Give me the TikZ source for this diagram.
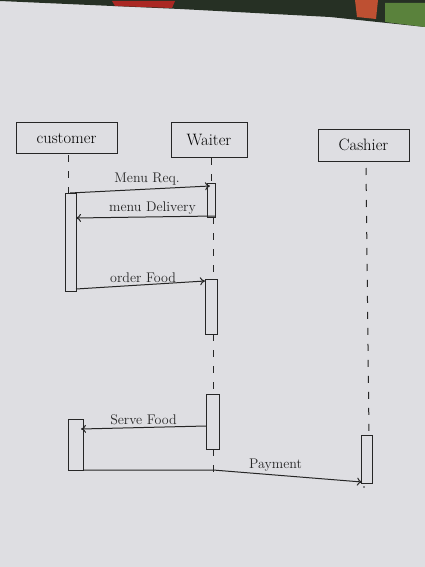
\documentclass[tikz,border=0pt]{standalone}
\usetikzlibrary{arrows.meta}
\begin{document}
\begin{tikzpicture}[x=1pt,y=-1pt,
  ink/.style={draw=black!85, line width=1pt},
  headbox/.style={ink, rectangle, inner sep=0pt, font=\fontsize{16.5}{18}\selectfont},
  actbox/.style={ink, rectangle, inner sep=0pt},
  lifeline/.style={ink, dash pattern=on 7pt off 9pt},
  msg/.style={ink, -{To[length=5pt,width=8pt]}},
  lbl/.style={inner sep=1pt, font=\fontsize{14}{16}\selectfont, text=black!85}]
% paper and photo background
\fill[fill={rgb,255:red,222;green,222;blue,226}] (0,0) rectangle (425,567);
\fill[fill={rgb,255:red,38;green,48;blue,36}] (0,0) -- (425,0) -- (425,27) -- (330,17) -- (180,9) -- (0,1) -- cycle;
\fill[fill={rgb,255:red,170;green,40;blue,35}] (112,1) -- (175,1) -- (172,8) -- (115,6) -- cycle;
\fill[fill={rgb,255:red,190;green,80;blue,50}] (355,0) -- (378,0) -- (376,19) -- (357,17) -- cycle;
\fill[fill={rgb,255:red,90;green,130;blue,60}] (385,3) -- (425,3) -- (425,27) -- (385,22) -- cycle;
% heads
\node[headbox, minimum width=101pt, minimum height=30pt] (cust) at (66.5,138) {customer};
\node[headbox, minimum width=76pt, minimum height=34pt] (wait) at (209,140) {Waiter};
\node[headbox, minimum width=91pt, minimum height=32pt] (cash) at (363.5,145) {Cashier};
% activation bars
\node[actbox, minimum width=11pt, minimum height=98pt] (ca1) at (70.5,242) {};
\node[actbox, minimum width=15pt, minimum height=51pt] (ca2) at (75.5,444.5) {};
\node[actbox, minimum width=8pt, minimum height=34pt] (wa1) at (211,200) {};
\node[actbox, minimum width=12pt, minimum height=55pt] (wa2) at (211,306.5) {};
\node[actbox, minimum width=13pt, minimum height=55pt] (wa3) at (212.5,421.5) {};
\node[actbox, minimum width=11pt, minimum height=48pt] (sa1) at (366.5,459) {};
% lifelines
\coordinate (cl0) at (68,155);
\coordinate (cl1) at (68,193);
\draw[lifeline] (cl0) -- (cl1);
\coordinate (wl0) at (211,158);
\coordinate (wl1) at (211,183);
\coordinate (wl2) at (213,217);
\coordinate (wl3) at (213,279);
\coordinate (wl4) at (213,334);
\coordinate (wl5) at (213,394);
\coordinate (wl6) at (213,449);
\coordinate (wl7) at (213,472);
\draw[lifeline] (wl0) -- (wl1);
\draw[lifeline] (wl2) -- (wl3);
\draw[lifeline] (wl4) -- (wl5);
\draw[lifeline] (wl6) -- (wl7);
\coordinate (sl0) at (366,168);
\coordinate (sl1) at (369,435);
\draw[lifeline] (sl0) -- (sl1);
\coordinate (sl2) at (364,487);
\fill[black!85] (sl2) circle (0.9pt);
% messages
\coordinate (m1a) at (70,193);
\coordinate (m1b) at (210,186);
\draw[msg] (m1a) -- node[lbl, above=2pt, pos=0.55] (l1) {Menu Req.} (m1b);
\coordinate (m2a) at (215,216);
\coordinate (m2b) at (76,218);
\draw[msg] (m2a) -- node[lbl, above=1pt, pos=0.45] (l2) {menu Delivery} (m2b);
\coordinate (m3a) at (76,289);
\coordinate (m3b) at (205,281);
\draw[msg] (m3a) -- node[lbl, above=1pt, pos=0.52] (l3) {order Food} (m3b);
\coordinate (m4a) at (206,426);
\coordinate (m4b) at (81,429);
\draw[msg] (m4a) -- node[lbl, above=1pt, pos=0.5] (l4) {Serve Food} (m4b);
\coordinate (m5a) at (83,470);
\coordinate (m5k) at (213,470);
\coordinate (m5b) at (362,482);
\draw[msg] (m5a) -- (m5k) -- node[lbl, above=2pt, pos=0.42] (l5) {Payment} (m5b);
\end{tikzpicture}
\end{document}
